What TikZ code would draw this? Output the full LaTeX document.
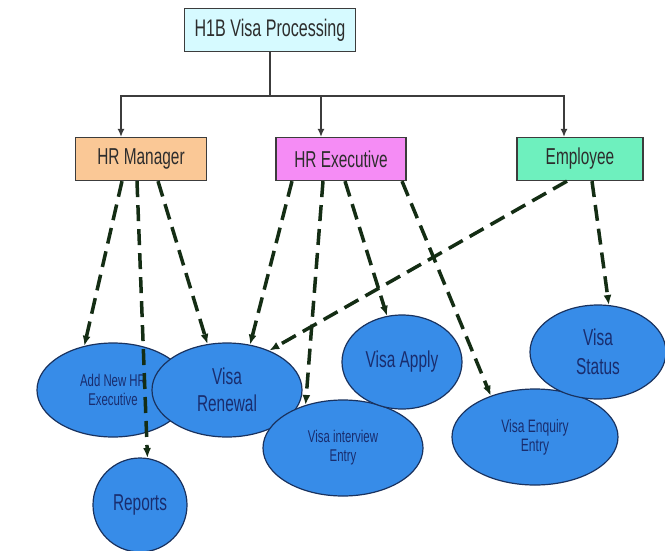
\documentclass[tikz,border=0pt]{standalone}
\usepackage{fontspec}
\setmainfont{Liberation Sans}
\newfontfamily\narrowfont[FakeStretch=0.67]{Liberation Sans}
\usetikzlibrary{shapes.geometric,arrows.meta}
\definecolor{boxline}{RGB}{60,60,60}
\definecolor{boxtext}{RGB}{45,45,45}
\definecolor{topfill}{RGB}{214,250,255}
\definecolor{mgrfill}{RGB}{250,200,150}
\definecolor{execfill}{RGB}{245,140,245}
\definecolor{empfill}{RGB}{110,240,190}
\definecolor{casefill}{RGB}{55,140,232}
\definecolor{caseline}{RGB}{25,50,95}
\definecolor{casetext}{RGB}{25,45,110}
\definecolor{depgreen}{RGB}{20,45,20}
\begin{document}
\begin{tikzpicture}[x=1pt, y=-1pt,
    box/.style={draw=boxline, line width=1.3pt, minimum height=43pt, inner sep=2pt,
      text=boxtext, font=\narrowfont\fontsize{23}{26}\selectfont},
    usecase/.style={ellipse, draw=caseline, line width=1.2pt, fill=casefill,
      text=casetext, align=center, inner sep=0pt},
    bigcase/.style={usecase, font=\narrowfont\fontsize{23}{27}\selectfont},
    smallcase/.style={usecase, font=\narrowfont\fontsize{17}{19}\selectfont},
    feed/.style={-{Latex[length=8pt,width=7pt]}, draw=boxline, line width=1.3pt},
    dep/.style={-{Latex[length=10pt,width=8pt]}, draw=depgreen, line width=3.5pt,
      dash pattern=on 16pt off 8pt}]
  \useasboundingbox[fill=white] (0,0) rectangle (665,550);

  % boxes
  \node[box, fill=topfill, minimum width=171pt, font=\narrowfont\fontsize{24}{26}\selectfont]
    (top) at (270,30) {H1B Visa Processing};
  \node[box, fill=mgrfill, minimum width=131pt]  (mgr)  at (141,159) {HR Manager};
  \node[box, fill=execfill, minimum width=130pt] (exec) at (341,159) {HR Executive};
  \node[box, fill=empfill, minimum width=126pt]  (emp)  at (580,159) {Employee};

  \coordinate (bus) at (270,96);
  \draw[boxline, line width=1.3pt] (top) -- (bus);
  \draw[feed] (bus) -| ([xshift=-20pt]mgr.north);
  \draw[feed] (bus) -| ([xshift=-20pt]exec.north);
  \draw[feed] (bus) -| ([xshift=-16pt]emp.north);

  % use cases
  \node[usecase, minimum width=152pt, minimum height=94pt,
    font=\narrowfont\fontsize{17}{19}\selectfont] (addhr) at (113,390) {Add New HR\\Executive};
  \node[bigcase, minimum width=94pt, minimum height=94pt] (reports) at (140,505) {Reports};
  \node[bigcase, minimum width=150pt, minimum height=94pt] (renewal) at (227,390) {Visa\\Renewal};
  \node[smallcase, minimum width=160pt, minimum height=96pt] (interview) at (343,448) {Visa interview\\Entry};
  \node[bigcase, minimum width=120pt, minimum height=94pt] (apply) at (402,362) {Visa Apply};
  \node[smallcase, minimum width=166pt, minimum height=96pt,
    font=\narrowfont\fontsize{18}{19}\selectfont] (enquiry) at (535,437) {Visa Enquiry\\Entry};
  \node[bigcase, minimum width=136pt, minimum height=94pt,
    font=\narrowfont\fontsize{23}{29}\selectfont] (status) at (598,352) {Visa\\Status};

  % dependencies
  \draw[dep] ([xshift=-19pt]mgr.south) -- (addhr.123);
  \draw[dep] ([xshift=-4pt]mgr.south) -- (reports.81);
  \draw[dep] ([xshift=17pt]mgr.south) -- (renewal.113);
  \draw[dep] ([xshift=-49pt]exec.south) -- (renewal.63);
  \draw[dep] ([xshift=-18pt]exec.south) -- (interview.131);
  \draw[dep] ([xshift=4pt]exec.south) -- (apply.108);
  \draw[dep] ([xshift=61pt]exec.south) -- (enquiry.137);
  \draw[dep] ([xshift=-13pt]emp.south) -- (renewal.43);
  \draw[dep] ([xshift=12pt]emp.south) -- (status.77);
\end{tikzpicture}
\end{document}
